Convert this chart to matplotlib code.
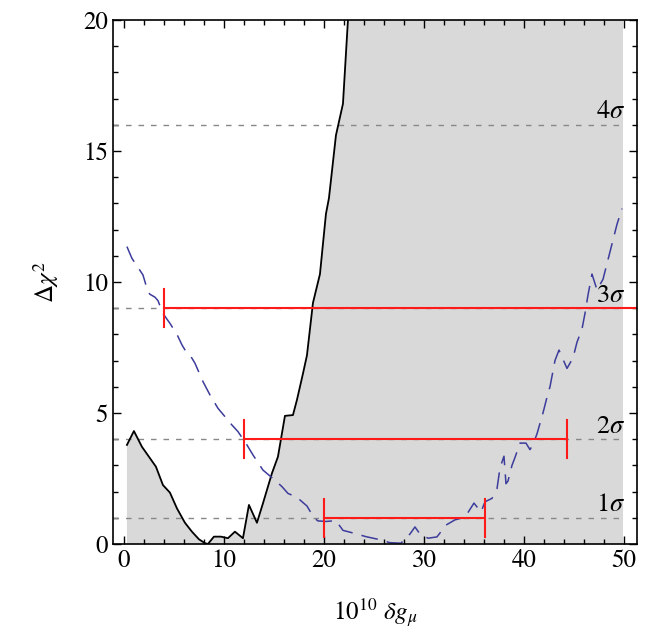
import numpy as np
import matplotlib
matplotlib.use("Agg")
import matplotlib.pyplot as plt
from matplotlib.ticker import MultipleLocator

plt.rcParams["font.family"] = ["STIXGeneral", "DejaVu Serif"]
plt.rcParams["mathtext.fontset"] = "stix"

# solid curve (shaded below)
black_x = [0.3, 1.0, 1.8, 2.5, 3.2, 3.9, 4.6, 5.3, 6.1, 6.8, 7.5, 8.1, 8.4, 9.0,
           9.7, 10.4, 11.1, 11.9, 12.5, 13.3, 13.9, 14.8, 15.4, 16.1, 16.9, 17.3,
           17.9, 18.3, 18.9, 19.6, 20.2, 20.5, 21.2, 21.9, 22.4, 22.9]
black_y = [3.78, 4.31, 3.71, 3.33, 2.95, 2.25, 1.96, 1.36, 0.81, 0.47, 0.18, 0.03, 0.0, 0.28,
           0.28, 0.22, 0.47, 0.22, 1.49, 0.81, 1.55, 2.70, 3.33, 4.89, 4.92, 5.5,
           6.5, 7.2, 9.2, 10.3, 12.6, 13.2, 15.6, 16.8, 20.0, 23.0]
scan_end = 49.9

# dashed curve
blue_x = [0.3, 0.8, 1.5, 1.9, 2.4, 2.6, 3.1, 3.4, 3.9, 4.6, 5.3, 5.8, 6.3, 6.8, 7.1,
          7.9, 8.6, 9.4, 10.1, 10.8, 11.4, 12.3, 12.9, 13.9, 14.9, 15.8, 16.4, 17.3,
          18.3, 19.0, 19.4, 20.2, 21.2, 21.9, 22.9, 24.2, 25.4, 26.6, 27.7, 28.6,
          29.1, 29.6, 30.4, 31.3, 32.2, 33.1, 34.1, 35.0, 35.7, 36.1, 36.8, 37.3,
          37.6, 38.0, 38.2, 38.4, 38.8, 39.1, 39.6, 40.2, 40.6, 40.9, 41.3, 41.9,
          42.3, 42.6, 43.1, 43.5, 44.3, 44.9, 45.3, 45.8, 46.1, 46.4, 46.8, 47.3,
          47.9, 48.3, 48.9, 49.3, 49.8]
blue_y = [11.35, 10.9, 10.5, 10.27, 9.63, 9.53, 9.42, 9.29, 8.8, 8.42, 8.0, 7.6, 7.28, 7.09, 6.9,
          6.2, 5.69, 5.18, 4.86, 4.54, 4.29, 3.78, 3.40, 2.82, 2.5, 2.19, 1.93, 1.78,
          1.45, 1.0, 0.88, 0.86, 0.89, 0.52, 0.42, 0.28, 0.18, 0.05, 0.03, 0.38,
          0.65, 0.38, 0.22, 0.27, 0.72, 0.92, 1.02, 1.56, 1.22, 1.61, 1.74, 2.1,
          2.9, 3.35, 2.3, 2.4, 3.0, 3.3, 3.85, 3.85, 3.6, 3.8, 4.2, 5.0,
          5.6, 6.0, 7.0, 7.4, 6.7, 7.1, 7.7, 8.2, 8.8, 9.5, 10.3, 9.7,
          10.1, 10.7, 11.6, 12.2, 12.8]

# confidence levels and intervals
levels = [1, 4, 9, 16]
level_labels = [r"$1\sigma$", r"$2\sigma$", r"$3\sigma$", r"$4\sigma$"]
int_lo = [20.0, 12.0, 4.0]
int_hi = [36.1, 44.3, 60.0]

fig = plt.figure(figsize=(6.49, 6.43), dpi=100)
ax = fig.add_axes([0.174, 0.154, 0.8075, 0.815])
ax.set_xlim(-1.1, 51.3)
ax.set_ylim(0, 20)

fx = np.append(black_x, scan_end)
fy = np.append(black_y, 30.0)
ax.fill_between(fx, 0, fy, color="#d9d9d9", linewidth=0, zorder=1)

for lv in levels:
    ax.plot([-1.1, scan_end], [lv, lv], color="#888888", lw=1.0,
            dashes=(4, 5), zorder=2)

ax.plot(black_x, black_y, color="black", lw=1.3, zorder=3)
ax.plot(blue_x, blue_y, color="#3c3c9c", lw=1.1, dashes=(11, 6), zorder=3)

cap = 0.72
for lv, lo, hi in zip(levels, int_lo, int_hi):
    ax.plot([lo, hi], [lv, lv], color="#ff1a1a", lw=1.5, zorder=4)
    for xe in (lo, hi):
        ax.plot([xe, xe], [lv - cap, lv + cap], color="#ff1a1a", lw=1.5, zorder=4)

for lv, lab in zip(levels, level_labels):
    ax.text(50.1, lv + 0.25, lab, ha="right", va="baseline", fontsize=19, zorder=5)

ax.xaxis.set_major_locator(MultipleLocator(10))
ax.xaxis.set_minor_locator(MultipleLocator(2))
ax.yaxis.set_major_locator(MultipleLocator(5))
ax.yaxis.set_minor_locator(MultipleLocator(1))
ax.tick_params(which="both", direction="in", top=True, right=True, labelsize=18)
ax.tick_params(which="major", length=6, width=1.0)
ax.tick_params(which="minor", length=3.5, width=1.0)
for s in ax.spines.values():
    s.set_linewidth(1.2)
    s.set_zorder(6)

ax.set_xlabel(r"$10^{10}\ \delta g_\mu$", fontsize=18, labelpad=17)
ax.set_ylabel(r"$\Delta\chi^2$", fontsize=18, labelpad=16)

fig.savefig("out.png", dpi=100)
